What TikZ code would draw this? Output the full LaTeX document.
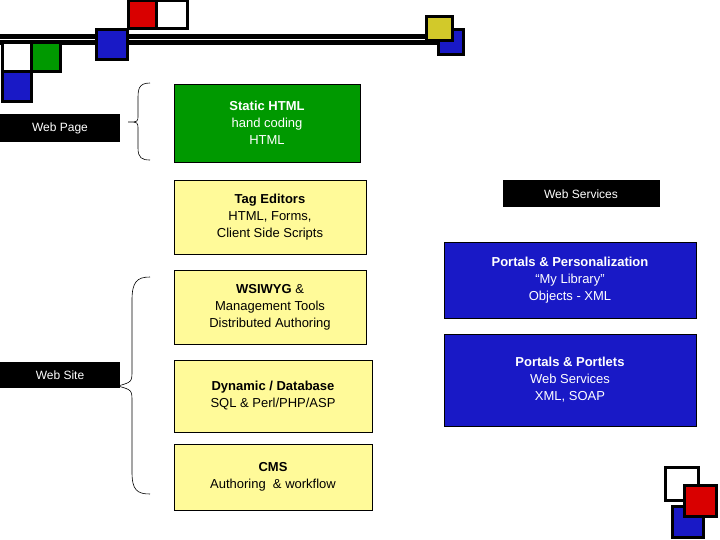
\documentclass[tikz,border=0pt]{standalone}
\usepackage{fontspec}
\setmainfont{Liberation Sans}
\begin{document}
\begin{tikzpicture}[x=1pt,y=-1pt,
 sq/.style={draw=black,line width=3pt},
 box/.style={draw=black,line width=0.5pt,align=center,inner sep=0pt,font=\fontsize{13}{17}\selectfont},
 yb/.style={box,fill=yellow!40},
 bb/.style={box,fill=blue!75!black!90,text=white},
 lab/.style={fill=black,text=white,font=\fontsize{12}{14}\selectfont,inner sep=0pt}]
\useasboundingbox (0,0) rectangle (720,540);
% top line
\fill[black] (0,34) rectangle (460,45);
\draw[white,line width=1pt] (0,39.5) -- (430,39.5);
\draw[sq,fill=white] (2,43) rectangle (31,72);
\draw[sq,fill=green!60!black] (31,43) rectangle (60,72);
\draw[sq,fill=blue!75!black!90] (2,72) rectangle (31,102);
\draw[sq,fill=blue!75!black!90] (96,30) rectangle (127,60);
\draw[sq,fill=red!85!black] (128,1) rectangle (156,29);
\draw[sq,fill=white] (156,1) rectangle (187,29);
\draw[sq,fill=blue!75!black!90] (438,30) rectangle (463,55);
\draw[sq,fill=yellow!80!black] (426,17) rectangle (452,41);
% bottom right
\draw[sq,fill=white] (665,467) rectangle (698,500);
\draw[sq,fill=blue!75!black!90] (672,506) rectangle (703,537);
\draw[sq,fill=red!85!black] (684,485) rectangle (716,516);
% labels
\node[lab,minimum width=120,minimum height=28] (wp) at (60,128) {Web Page};
\node[lab,minimum width=120,minimum height=26] (ws) at (60,375) {Web Site};
% braces
\draw[line width=0.6pt] (150,83) .. controls (138,83) and (138,90) .. (138,100) -- (138,115) .. controls (138,122) .. (128,122) .. controls (138,122) .. (138,130) -- (138,148) .. controls (138,158) and (142,160) .. (150,160);
\draw[line width=0.6pt] (150,277) .. controls (137,277) and (132,282) .. (132,300) -- (132,370) .. controls (132,382) .. (118,386) .. controls (132,390) .. (132,402) -- (132,472) .. controls (132,490) and (137,494) .. (150,494);
% boxes
\node[box,fill=green!60!black,text=white,minimum width=186,minimum height=78] (s) at (267,123) {\textbf{Static HTML}\\hand coding\\HTML};
\node[yb,minimum width=192,minimum height=74] (t) at (270,217) {\textbf{Tag Editors}\\HTML, Forms,\\Client Side Scripts};
\node[yb,minimum width=192,minimum height=74] (w) at (270,307) {\textbf{WSIWYG} \&\\Management Tools\\Distributed Authoring};
\node[yb,minimum width=198,minimum height=72] (d) at (273,396) {\textbf{Dynamic / Database}\\SQL \& Perl/PHP/ASP};
\node[yb,minimum width=198,minimum height=66] (c) at (273,477) {\textbf{CMS}\\Authoring\ \ \& workflow};
\node[lab,minimum width=157,minimum height=27] (wsv) at (581,194) {Web Services};
\node[bb,minimum width=252,minimum height=76] (p1) at (570,280) {\textbf{Portals \& Personalization}\\“My Library”\\Objects - XML};
\node[bb,minimum width=252,minimum height=92] (p2) at (570,380) {\textbf{Portals \& Portlets}\\Web Services\\XML, SOAP};
\end{tikzpicture}
\end{document}
